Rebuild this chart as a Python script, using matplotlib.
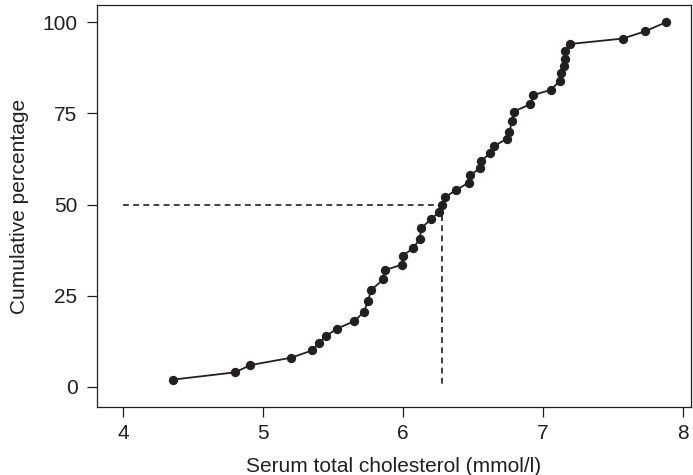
import matplotlib
matplotlib.use("Agg")
import matplotlib.pyplot as plt

# Serum total cholesterol (mmol/l) and cumulative percentage
cholesterol = [4.355, 4.80, 4.91, 5.20, 5.35, 5.40, 5.45, 5.53, 5.65, 5.72,
               5.75, 5.77, 5.86, 5.87, 5.99, 6.00, 6.07, 6.12, 6.13, 6.20,
               6.26, 6.28, 6.30, 6.38, 6.47, 6.48, 6.55, 6.56, 6.62, 6.65,
               6.74, 6.76, 6.78, 6.79, 6.91, 6.93, 7.06, 7.12, 7.13, 7.15,
               7.16, 7.16, 7.19, 7.57, 7.73, 7.88]
cum_pct = [2, 4, 6, 8, 10, 12, 14, 16, 18, 20.5,
           23.5, 26.5, 29.5, 32, 33.5, 36, 38, 40.5, 43.5, 46,
           48, 50, 52, 54, 56, 58, 60, 62, 64, 66,
           68, 70, 73, 75.5, 77.5, 80, 81.5, 84, 86, 88,
           90, 92, 94, 95.5, 97.5, 100]
median_x = 6.28
median_y = 50
x_ticks = [4, 5, 6, 7, 8]
y_ticks = [0, 25, 50, 75, 100]

plt.rcParams['font.family'] = ['Liberation Sans', 'DejaVu Sans']
ink = '#231f20'

fig = plt.figure(figsize=(6.93, 4.75), dpi=100)
ax = fig.add_axes([97/693, 1 - 407/475, (691-97)/693, (407-5)/475])

ax.plot([4.0, median_x], [median_y, median_y], ls=(0, (3.5, 2.6)), color=ink, lw=1.2)
ax.plot([median_x, median_x], [median_y, 0.5], ls=(0, (3.5, 2.6)), color=ink, lw=1.2)
ax.plot(cholesterol, cum_pct, '-o', color=ink, lw=1.3, markersize=5.7,
        markerfacecolor=ink, markeredgecolor=ink)

ax.set_xlim(3.814, 8.057)
ax.set_ylim(-5.5, 104.7)
ax.set_xticks(x_ticks)
ax.set_yticks(y_ticks)
ax.tick_params(direction='out', length=7, width=0.9, colors=ink, labelsize=15)
ax.tick_params(axis='y', pad=7)
ax.tick_params(axis='x', pad=5)
for s in ax.spines.values():
    s.set_linewidth(0.9)
    s.set_color(ink)
ax.set_xlabel('Serum total cholesterol (mmol/l)', fontsize=15, color=ink, labelpad=10)
ax.set_ylabel('Cumulative percentage', fontsize=15, color=ink, labelpad=10)

fig.savefig('out.png', dpi=100)
